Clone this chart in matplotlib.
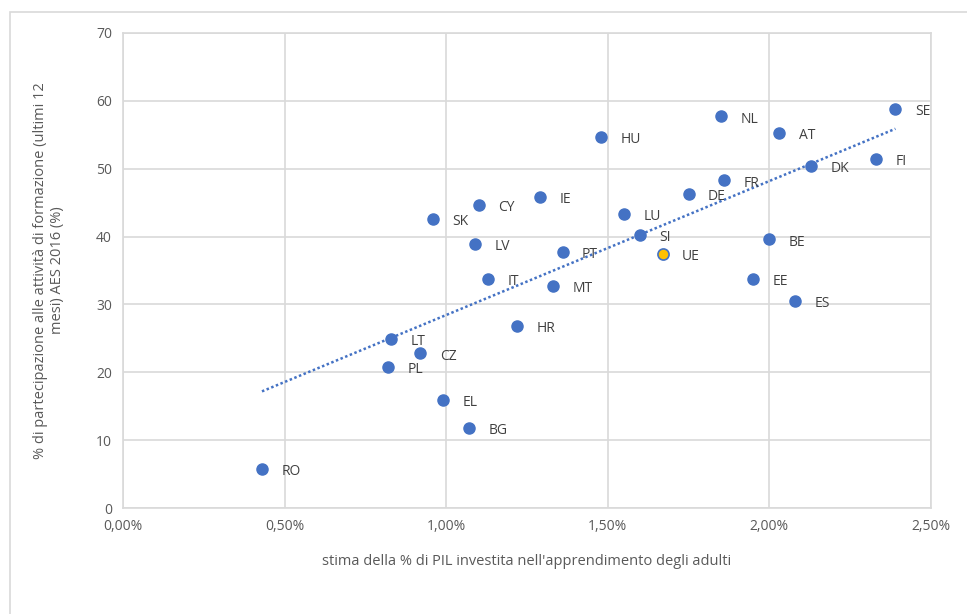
import matplotlib
matplotlib.use("Agg")
import matplotlib.pyplot as plt
import numpy as np
from matplotlib.ticker import FuncFormatter

# dati: % PIL investita nell'apprendimento adulti vs partecipazione AES 2016
paesi = ["RO", "LT", "PL", "CZ", "EL", "BG", "SK", "CY", "LV", "IT", "HR", "IE",
         "PT", "MT", "HU", "LU", "SI", "DE", "NL", "FR", "EE", "BE", "AT", "ES",
         "DK", "FI", "SE"]
pil = [0.43, 0.83, 0.82, 0.92, 0.99, 1.07, 0.96, 1.10, 1.09, 1.13, 1.22, 1.29,
       1.36, 1.33, 1.48, 1.55, 1.60, 1.75, 1.85, 1.86, 1.95, 2.00, 2.03, 2.08,
       2.13, 2.33, 2.39]
partecipazione = [5.8, 24.9, 20.8, 22.8, 15.9, 11.8, 42.6, 44.7, 38.9, 33.8, 26.8, 45.9,
                  37.8, 32.7, 54.7, 43.3, 40.2, 46.3, 57.7, 48.3, 33.8, 39.6, 55.3, 30.5,
                  50.4, 51.4, 58.8]
ue_label = "UE"
ue_pil = 1.67
ue_part = 37.4

blu = "#4472C4"
grigio = "#D9D9D9"
testo = "#595959"

plt.rcParams['font.family'] = ['Open Sans', 'DejaVu Sans']

fig = plt.figure(figsize=(9.67, 6.14), dpi=100)
ax = fig.add_axes([123 / 967, 1 - 508 / 614, (931 - 123) / 967, (508 - 33) / 614])

# cornice del grafico
fig.patches.append(plt.Rectangle((10 / 967, -0.05), 1.0, 1 - 12 / 614 + 0.05,
                                 transform=fig.transFigure, fill=False,
                                 edgecolor=grigio, linewidth=1.2))

ax.set_xlim(0, 2.5)
ax.set_ylim(0, 70)
ax.set_xticks(np.arange(0, 2.51, 0.5))
ax.set_yticks(np.arange(0, 71, 10))
ax.xaxis.set_major_formatter(FuncFormatter(lambda v, p: f"{v:.2f}%".replace(".", ",")))
ax.grid(True, color=grigio, linewidth=1.2)
ax.set_axisbelow(True)
for s in ax.spines.values():
    s.set_color(grigio)
    s.set_linewidth(1.2)
ax.tick_params(length=0, labelsize=10, colors=testo, pad=8)

# linea di tendenza
coef = np.polyfit(pil, partecipazione, 1)
xt = np.array([min(pil), max(pil)])
ax.plot(xt, np.polyval(coef, xt), linestyle=(0, (1, 1)), color=blu, linewidth=1.8, zorder=2)

ax.plot(pil, partecipazione, "o", color=blu, markersize=8, zorder=3)
ax.plot([ue_pil], [ue_part], "o", color="#FFC000", markeredgecolor=blu,
        markeredgewidth=1.2, markersize=8, zorder=3)

for nome, x, y in zip(paesi + [ue_label], pil + [ue_pil], partecipazione + [ue_part]):
    ax.annotate(nome, (x, y), xytext=(14, -2), textcoords="offset points",
                va="center", ha="left", fontsize=10, color="#404040")

ax.set_xlabel("stima della % di PIL investita nell'apprendimento degli adulti",
              fontsize=10.5, color=testo, labelpad=14)
ax.set_ylabel("% di partecipazione alle attività di formazione (ultimi 12\nmesi) AES 2016 (%)",
              fontsize=10.5, color=testo, labelpad=22)

fig.savefig("out.png", dpi=100)
